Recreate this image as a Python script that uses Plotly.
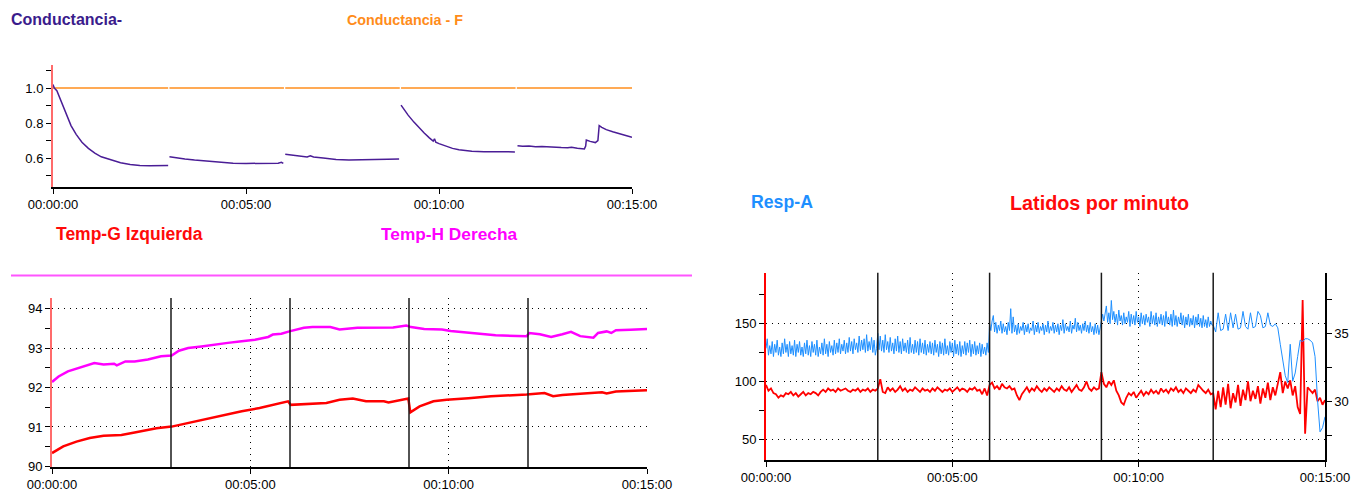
import plotly.graph_objects as go

W, H = 1351, 495

# ---------------- data ----------------
time_ticks = [0, 300, 600, 900]
time_labels = ["00:00:00", "00:05:00", "00:10:00", "00:15:00"]
segment_bounds = [180, 360, 540, 720]

# Panel 1: Conductancia (purple) and Conductancia - F (orange)
cond_t = [0, 2, 6, 12, 20, 28, 36, 45, 55, 65, 75, 90, 105, 120, 135, 150, 165, 179, None,
          181, 190, 205, 220, 240, 260, 280, 300, 330, 350, 355, 358, None,
          361, 370, 385, 395, 400, 405, 420, 440, 460, 490, 510, 520, 538, None,
          541, 544, 552, 561, 569, 577, 585, 591, 593, 595, 600, 611, 621, 631, 641, 651, 670, 690, 718, None,
          722, 730, 740, 750, 760, 770, 780, 790, 800, 806, 815, 826, 828, 829, 835, 843, 847, 849, 853,
          860, 870, 880, 886, 893, 900]
cond_v = [1.02, 1.0, 0.985, 0.93, 0.855, 0.785, 0.735, 0.69, 0.655, 0.628, 0.607, 0.588, 0.573, 0.563,
          0.557, 0.556, 0.557, 0.557, None,
          0.607, 0.601, 0.594, 0.588, 0.581, 0.575, 0.57, 0.569, 0.569, 0.57, 0.575, 0.569, None,
          0.622, 0.617, 0.610, 0.606, 0.613, 0.606, 0.600, 0.591, 0.589, 0.589, 0.59, 0.593, 0.594, None,
          0.902, 0.885, 0.845, 0.805, 0.772, 0.743, 0.715, 0.697, 0.71, 0.69, 0.682, 0.666, 0.655, 0.647,
          0.641, 0.638, 0.636, 0.635, 0.635, None,
          0.670, 0.667, 0.669, 0.665, 0.666, 0.663, 0.664, 0.66, 0.659, 0.662, 0.656, 0.652, 0.668, 0.703,
          0.695, 0.688, 0.70, 0.785, 0.775, 0.762, 0.750, 0.738, 0.733, 0.726, 0.719]
condf_t = [0, 179, None, 181, 359, None, 361, 539, None, 541, 719, None, 721, 900]
condf_v = [1.0, 1.0, None, 1.0, 1.0, None, 1.0, 1.0, None, 1.0, 1.0, None, 1.0, 1.0]

# Panel 2: Temp-H Derecha (magenta), Temp-G Izquierda (red)
temph_t = [0, 10, 24, 40, 57, 64, 78, 94, 98, 111, 125, 145, 165, 181, 192, 206, 226, 246, 266, 287,
           307, 327, 334, 347, 359, 381, 394, 421, 435, 462, 496, 516, 536, 543, 563, 590, 603, 630,
           657, 671, 718, 722, 738, 755, 772, 785, 799, 819, 826, 839, 846, 853, 875, 900]
temph_v = [92.14, 92.28, 92.41, 92.50, 92.60, 92.62, 92.58, 92.60, 92.56, 92.66, 92.66, 92.71, 92.79,
           92.81, 92.93, 93.00, 93.04, 93.09, 93.13, 93.17, 93.21, 93.28, 93.34, 93.36, 93.42, 93.51,
           93.53, 93.53, 93.47, 93.51, 93.51, 93.52, 93.57, 93.53, 93.48, 93.47, 93.43, 93.38, 93.34,
           93.32, 93.30, 93.38, 93.35, 93.28, 93.35, 93.41, 93.30, 93.26, 93.38, 93.42, 93.38, 93.45,
           93.46, 93.48]
tempg_t = [0, 17, 37, 57, 78, 105, 125, 145, 158, 181, 206, 233, 260, 287, 314, 334, 357, 361, 394,
           415, 435, 455, 475, 502, 509, 523, 539, 542, 556, 577, 597, 630, 664, 718, 745, 758, 772,
           799, 832, 839, 853, 900]
tempg_v = [90.34, 90.51, 90.63, 90.72, 90.78, 90.80, 90.86, 90.93, 90.97, 91.01, 91.10, 91.20, 91.31,
           91.40, 91.48, 91.56, 91.65, 91.56, 91.59, 91.61, 91.69, 91.72, 91.65, 91.65, 91.62, 91.67,
           91.72, 91.37, 91.52, 91.65, 91.69, 91.73, 91.78, 91.82, 91.86, 91.78, 91.81, 91.84, 91.88,
           91.85, 91.90, 91.93]

# Panel 3: samples per 3-minute segment (segment start, sample spacing in seconds)
seg_starts = [0, 180, 360, 540, 720]
resp_steps = [2, 2, 2, 2, 4]
bpm_steps = [4, 4, 4, 4, 4]
resp_segments = [  # Resp-A (right axis)
    [33.9, 34.6, 33.4, 34.1, 33.5, 34.4, 33.3, 34.2, 33.6, 34.5,
     33.4, 34.0, 33.3, 34.3, 33.5, 34.6, 33.6, 34.2, 33.3, 34.4,
     33.5, 34.1, 33.4, 34.5, 33.3, 34.2, 33.6, 34.4, 33.4, 34.0,
     33.3, 34.3, 33.5, 34.5, 33.4, 34.1, 33.3, 34.4, 33.6, 34.2,
     33.4, 34.5, 33.3, 34.0, 33.5, 34.3, 33.4, 34.6, 33.5, 34.2,
     33.3, 34.4, 33.6, 34.1, 33.4, 34.5, 33.5, 34.3, 33.6, 34.6,
     33.5, 34.2, 33.7, 34.5, 33.5, 34.3, 33.6, 34.7, 33.7, 34.4,
     33.5, 34.6, 33.8, 34.3, 33.6, 34.8, 33.7, 34.5, 33.8, 34.6,
     33.6, 34.9, 33.7, 34.4, 33.8, 34.7, 33.6, 34.5, 33.4, 33.9],
    [35.0, 33.8, 34.8, 33.7, 34.5, 33.6, 34.9, 33.8, 34.4, 33.6,
     34.7, 33.7, 34.3, 33.5, 34.6, 33.7, 34.8, 33.6, 34.4, 33.5,
     34.6, 33.7, 34.3, 33.6, 34.5, 33.5, 34.7, 33.6, 34.2, 33.5,
     34.5, 33.6, 34.4, 33.4, 34.6, 33.6, 34.3, 33.5, 34.5, 33.4,
     34.2, 33.6, 34.4, 33.5, 34.3, 33.4, 34.5, 33.6, 34.2, 33.3,
     34.4, 33.5, 34.3, 33.4, 34.6, 33.5, 34.1, 33.4, 34.4, 33.6,
     34.3, 33.3, 34.5, 33.5, 34.2, 33.4, 34.4, 33.3, 34.1, 33.5,
     34.4, 33.4, 34.3, 33.6, 34.5, 33.3, 34.2, 33.5, 34.4, 33.4,
     34.1, 33.5, 34.3, 33.3, 34.2, 33.5, 34.0, 33.4, 34.3, 33.6],
    [35.7, 35.2, 35.9, 36.3, 35.1, 35.8, 35.0, 35.6, 35.2, 35.9,
     35.0, 35.7, 35.1, 35.5, 34.9, 35.8, 35.2, 36.8, 35.0, 36.2,
     35.1, 35.6, 34.9, 35.7, 35.0, 35.5, 35.2, 35.8, 34.9, 35.6,
     35.1, 35.7, 35.0, 35.4, 35.2, 35.9, 34.9, 35.6, 35.1, 35.8,
     35.0, 35.5, 35.2, 35.7, 34.9, 35.6, 35.1, 35.9, 35.0, 35.5,
     35.2, 35.8, 35.0, 35.6, 35.1, 35.7, 34.9, 35.6, 35.2, 36.0,
     35.0, 35.7, 35.2, 35.5, 35.1, 35.9, 35.0, 35.6, 35.3, 36.1,
     35.1, 35.8, 35.2, 35.6, 35.0, 35.7, 35.2, 35.9, 35.1, 35.6,
     35.0, 35.8, 35.1, 35.5, 34.9, 35.7, 35.0, 35.6, 34.9, 35.4],
    [35.6, 36.4, 35.9, 36.6, 37.0, 35.8, 36.5, 35.7, 37.4, 36.0,
     36.6, 35.8, 36.4, 35.6, 36.7, 35.9, 36.3, 35.6, 36.5, 35.7,
     36.2, 35.8, 36.6, 35.5, 36.4, 35.7, 36.3, 35.6, 36.6, 35.8,
     36.2, 35.5, 36.5, 35.7, 36.3, 35.6, 36.4, 35.8, 36.2, 35.5,
     36.6, 35.7, 36.3, 35.6, 36.5, 35.5, 36.2, 35.7, 36.4, 35.6,
     36.3, 35.5, 36.6, 35.7, 36.2, 35.6, 36.4, 35.5, 36.7, 35.6,
     36.3, 35.5, 36.2, 35.7, 36.5, 35.6, 36.3, 35.4, 36.2, 35.6,
     36.4, 35.5, 36.1, 35.6, 36.3, 35.4, 36.2, 35.6, 36.4, 35.5,
     36.1, 35.4, 36.3, 35.5, 36.0, 35.4, 36.2, 35.5, 35.9, 35.6],
    [35.6, 35.1, 36.5, 35.2, 35.3, 36.4, 35.2, 36.5, 35.4, 36.4, 35.3, 35.4, 36.6, 35.5, 35.3, 36.5,
     35.4, 35.5, 36.6, 36.3, 35.4, 35.5, 36.5, 35.6, 35.5, 35.7, 35.4, 34.2, 33.0, 31.9, 31.4, 34.2,
     31.5, 32.1, 33.3, 34.5, 34.4, 34.6, 34.6, 34.5, 34.3, 33.3, 30.1, 27.8, 28.1, 28.9],
]
bpm_segments = [  # Latidos por minuto (left axis)
    [97, 92, 94, 90, 89, 86, 88, 87, 90, 89, 91, 88, 90, 87, 89, 91, 88, 90, 89, 91, 90, 88, 91, 93,
     91, 94, 92, 93, 91, 94, 92, 93, 94, 92, 91, 93, 92, 94, 91, 93, 92, 94, 91, 93, 92],
    [94, 102, 91, 90, 95, 92, 94, 91, 93, 96, 92, 94, 91, 93, 92, 95, 93, 91, 94, 92, 93, 91, 94, 92,
     95, 93, 91, 93, 92, 94, 91, 93, 95, 92, 94, 93, 91, 94, 93, 95, 92, 93, 89, 94, 88],
    [97, 99, 94, 96, 93, 98, 95, 94, 96, 93, 94, 88, 84, 89, 92, 95, 91, 94, 92, 96, 93, 91, 94, 92,
     95, 93, 91, 94, 92, 96, 93, 92, 95, 91, 94, 97, 93, 92, 95, 100, 94, 92, 95, 93, 94],
    [108, 98, 95, 100, 97, 101, 92, 88, 82, 80, 86, 90, 88, 91, 86, 89, 92, 88, 91, 89, 93, 90, 92,
     89, 94, 91, 93, 90, 94, 92, 95, 91, 93, 90, 94, 92, 90, 93, 91, 97, 94, 92, 90, 93, 89],
    [90, 76, 92, 78, 95, 80, 98, 77, 90, 82, 97, 79, 93, 84, 100, 83, 92, 85, 96, 81, 94, 86, 99, 84,
     95, 88, 97, 108, 90, 100, 94, 101, 88, 96, 78, 72, 170, 55, 95, 92, 90, 93, 83, 86, 80, 84],
]


def flatten(segments, steps):
    ts, vs = [], []
    for start, step, vals in zip(seg_starts, steps, segments):
        for i, v in enumerate(vals):
            ts.append(start + i * step)
            vs.append(v)
    return ts, vs


resp_t, resp_v = flatten(resp_segments, resp_steps)
bpm_t, bpm_v = flatten(bpm_segments, bpm_steps)

# ---------------- figure ----------------
FONT = "Liberation Sans, Arial, sans-serif"
fig = go.Figure()

fig.add_trace(go.Scatter(x=condf_t, y=condf_v, mode="lines", line=dict(color="#ffaa55", width=2),
                         xaxis="x", yaxis="y", connectgaps=False))
fig.add_trace(go.Scatter(x=cond_t, y=cond_v, mode="lines", line=dict(color="#4a1d96", width=1.5),
                         xaxis="x", yaxis="y", connectgaps=False))

fig.add_trace(go.Scatter(x=temph_t, y=temph_v, mode="lines", line=dict(color="#ff00ff", width=2.5),
                         xaxis="x2", yaxis="y2"))
fig.add_trace(go.Scatter(x=tempg_t, y=tempg_v, mode="lines", line=dict(color="#ff0000", width=2.5),
                         xaxis="x2", yaxis="y2"))

fig.add_trace(go.Scatter(x=resp_t, y=resp_v, mode="lines", line=dict(color="#1e8fff", width=1),
                         xaxis="x3", yaxis="y4"))
fig.add_trace(go.Scatter(x=bpm_t, y=bpm_v, mode="lines", line=dict(color="#ff0000", width=1.8),
                         xaxis="x3", yaxis="y3"))


def px_x(p):
    return p / W


def px_y(p):
    return 1 - p / H


tickfont = dict(family=FONT, size=13, color="black")
dotdash = "1px,5px"

xcommon = dict(range=[0, 900], tickvals=time_ticks, ticktext=time_labels, showline=True,
               linecolor="black", linewidth=1.5, ticks="outside", ticklen=5, tickcolor="black",
               zeroline=False, tickfont=tickfont, fixedrange=True, automargin=False)
ycommon = dict(showline=True, ticks="outside", ticklen=5, tickcolor="black", zeroline=False,
               tickfont=tickfont, fixedrange=True, automargin=False)

fig.update_layout(
    width=W, height=H, autosize=False,
    margin=dict(l=0, r=0, t=0, b=0, autoexpand=False),
    paper_bgcolor="white", plot_bgcolor="white",
    showlegend=False,
    xaxis=dict(domain=[px_x(53), px_x(632)], anchor="y", showgrid=False, **xcommon),
    yaxis=dict(domain=[px_y(187), px_y(65)], anchor="x", range=[0.4343, 1.1314],
               tickvals=[0.6, 0.8, 1.0], ticktext=["0.6", "0.8", "1.0"], showgrid=False,
               linecolor="#ff6b6b", linewidth=2,
               minor=dict(tickvals=[0.5, 0.7, 0.9, 1.1], ticks="outside", ticklen=5,
                          tickcolor="black", showgrid=False), **ycommon),
    xaxis2=dict(domain=[px_x(52), px_x(647)], anchor="y2", showgrid=True, gridcolor="black",
                griddash=dotdash, gridwidth=1, **xcommon),
    yaxis2=dict(domain=[px_y(467), px_y(298)], anchor="x2", range=[89.987, 94.266],
                tickvals=[90, 91, 92, 93, 94], showgrid=True, gridcolor="black", griddash=dotdash,
                gridwidth=1, linecolor="#ff6b6b", linewidth=2,
                minor=dict(tickvals=[90.5, 91.5, 92.5, 93.5], ticks="outside", ticklen=5,
                           tickcolor="black", showgrid=False), **ycommon),
    xaxis3=dict(domain=[px_x(766), px_x(1325)], anchor="y3", showgrid=True, gridcolor="black",
                griddash=dotdash, gridwidth=1, **xcommon),
    yaxis3=dict(domain=[px_y(460), px_y(272.7)], anchor="x3", range=[32.5, 193.5],
                tickvals=[50, 100, 150], showgrid=True, gridcolor="black", griddash=dotdash,
                gridwidth=1, linecolor="#ff0000", linewidth=2,
                minor=dict(tickvals=[75, 125, 175], ticks="outside", ticklen=5,
                           tickcolor="black", showgrid=False), **ycommon),
    yaxis4=dict(overlaying="y3", side="right", anchor="x3", range=[25.74, 39.43],
                tickvals=[30, 35], showgrid=False, linecolor="black", linewidth=1.5,
                minor=dict(tickvals=[27.5, 32.5, 37.5], ticks="outside", ticklen=5,
                           tickcolor="black", showgrid=False), **ycommon),
)

shapes = []
for xr, yr in [("x2", "y2 domain"), ("x3", "y3 domain")]:
    for b in segment_bounds:
        shapes.append(dict(type="line", xref=xr, yref=yr, x0=b, x1=b, y0=0, y1=1,
                           line=dict(color="#1a1a1a", width=1.5), layer="above"))
shapes.append(dict(type="line", xref="paper", yref="paper", x0=px_x(11), x1=px_x(692),
                   y0=px_y(275.5), y1=px_y(275.5), line=dict(color="#ff55ff", width=2)))
fig.update_layout(shapes=shapes)

titles = [
    ("Conductancia-", 9, 19, "#3a1c8c", 16),
    ("Conductancia - F", 345, 20, "#ff8c1a", 14.3),
    ("Temp-G Izquierda", 54, 234, "#ff0a0a", 17.5),
    ("Temp-H Derecha", 379, 234, "#ff00ff", 17.3),
    ("Resp-A", 749, 202, "#1e8fff", 17.7),
    ("Latidos por minuto", 1008, 203, "#ff0a0a", 19.8),
]
for text, x, y, color, size in titles:
    fig.add_annotation(text="<b>%s</b>" % text, xref="paper", yref="paper", x=px_x(x), y=px_y(y),
                       xanchor="left", yanchor="middle", showarrow=False,
                       font=dict(family=FONT, size=size, color=color))

fig.write_html("out.html")
